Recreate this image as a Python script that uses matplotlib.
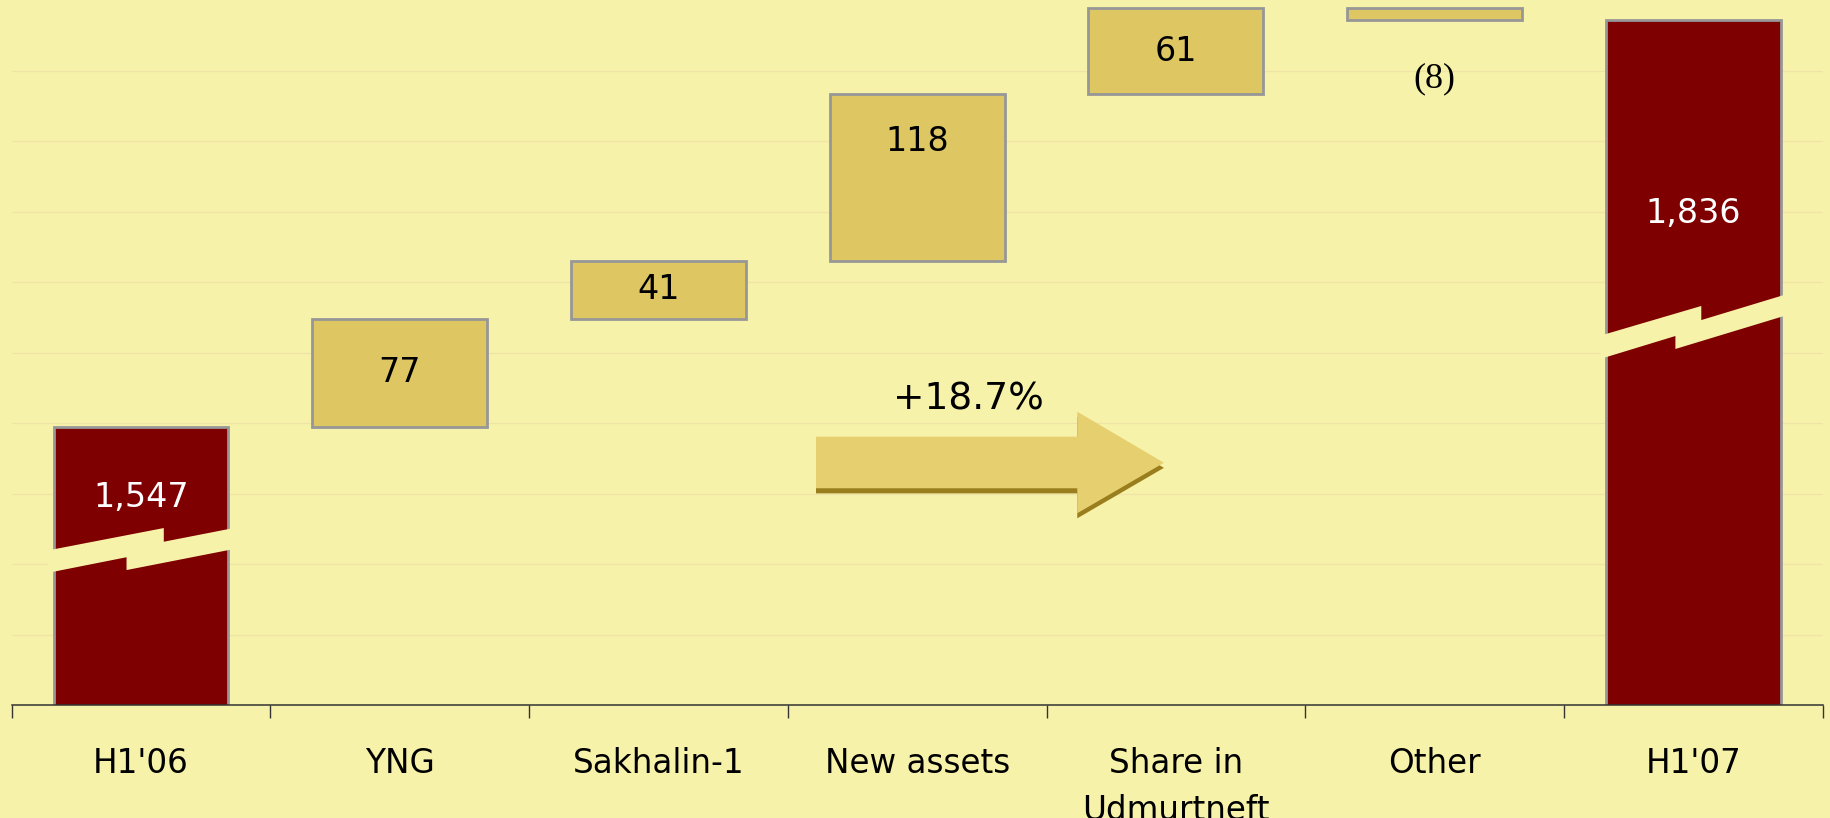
import numpy as np
import matplotlib
matplotlib.use("Agg")
import matplotlib.pyplot as plt
from matplotlib.patches import Polygon
from matplotlib.ticker import FixedLocator, NullFormatter

# ---------------- data ----------------
categories = ["H1'06", "YNG", "Sakhalin-1", "New assets", "Share in\nUdmurtneft", "Other", "H1'07"]
start_total = 1547
end_total = 1836
deltas = [77, 41, 118, 61, -8]
value_labels = ["1,547", "77", "41", "118", "61", "(8)", "1,836"]
growth_label = "+18.7%"

# ---------------- style ----------------
BG = "#F7F2AA"
RED = "#7F0000"
GOLD = "#DEC763"
EDGE = "#979797"
GRID = "#EEE4A6"
ARROW = "#E6CF6E"
ARROW_SH = "#9A7D1C"

plt.rcParams['font.family'] = ['DejaVu Sans']

fig = plt.figure(figsize=(18.3, 8.18), dpi=100)
fig.patch.set_facecolor(BG)
ax = fig.add_axes([11.7 / 1830, 113 / 818, (1822.6 - 11.7) / 1830, 705 / 818])
ax.set_facecolor(BG)

ymin, ymax = 1350, 1850
ax.set_ylim(ymin, ymax)
ax.set_xlim(-0.5, len(categories) - 0.5)

# grid
for gy in np.arange(ymin + 50, ymax, 50):
    ax.axhline(gy, color=GRID, lw=1.0, zorder=0)

bw = 0.676
x = np.arange(len(categories))

# totals
ax.bar([x[0], x[-1]], [start_total, end_total], width=bw, color=RED,
       edgecolor=EDGE, linewidth=2.0, zorder=2)

# floating boxes
cum = np.concatenate([[start_total], start_total + np.cumsum(deltas)])
bottoms = []
for i, d in enumerate(deltas):
    b = cum[i]
    bottoms.append(b)
    ax.bar(x[i + 1], d, bottom=b, width=bw, color=GOLD, edgecolor=EDGE,
           linewidth=2.0, zorder=2)

# axis-break bands on the total bars (decoration)
def break_band(xc, pts):
    xs = [xc - bw / 2 + fx * bw for fx, _ in pts]
    ys = [y for _, y in pts]
    poly = Polygon(list(zip(xs, ys)), closed=True, facecolor=BG,
                   edgecolor='none', zorder=3)
    ax.add_patch(poly)

ext = 0.03
break_band(x[0], [(-ext, 1459.7), (0.63, 1475.5), (0.63, 1465.8), (1 + ext, 1475.5),
                  (1 + ext, 1460.6), (0.417, 1445.7), (0.417, 1454.8), (-ext, 1443.8)])
break_band(x[-1], [(-ext, 1612.0), (0.546, 1633.0), (0.546, 1623.0), (1 + ext, 1641.2),
                   (1 + ext, 1626.3), (0.398, 1602.5), (0.398, 1611.7), (-ext, 1595.5)])

# value labels
fs_val = 24
ax.text(x[0], 1497, value_labels[0], ha='center', va='center', color='white',
        fontsize=fs_val, zorder=5)
ax.text(x[-1], 1698.5, value_labels[-1], ha='center', va='center', color='white',
        fontsize=fs_val, zorder=5)
for i, d in enumerate(deltas):
    b = bottoms[i]
    lab = value_labels[i + 1]
    if d < 0:
        ax.text(x[i + 1], b + d - 42, lab, ha='center', va='center',
                fontsize=26, family=['Liberation Serif'], zorder=5)
    elif d > 100:
        ax.text(x[i + 1], b + d - 33, lab, ha='center', va='center',
                fontsize=fs_val, zorder=5)
    else:
        ax.text(x[i + 1], b + d / 2, lab, ha='center', va='center',
                fontsize=fs_val, zorder=5)

# growth arrow (decoration)
ax_x0, ax_x1, ax_tip = 2.609, 3.619, 3.954
by0, by1 = 1503.7, 1540.3
hy0, hy1, tipy = 1486.0, 1558.0, 1521.8
arrow_pts = [(ax_x0, by0), (ax_x0, by1), (ax_x1, by1), (ax_x1, hy1),
             (ax_tip, tipy), (ax_x1, hy0), (ax_x1, by0)]
sh = 3.6
ax.add_patch(Polygon([(px, py - sh) for px, py in arrow_pts], closed=True,
                     facecolor=ARROW_SH, edgecolor='none', zorder=3))
ax.add_patch(Polygon(arrow_pts, closed=True, facecolor=ARROW, edgecolor='none', zorder=4))
ax.text(3.197, 1567, growth_label, ha='center', va='center', fontsize=27, zorder=5)

# axes styling
for s in ['left', 'right', 'top']:
    ax.spines[s].set_visible(False)
ax.spines['bottom'].set_color('#333333')
ax.spines['bottom'].set_linewidth(1.1)
ax.set_yticks([])
ax.set_xticks(x)
ax.set_xticklabels(categories, fontsize=23.5, linespacing=1.55)
ax.tick_params(axis='x', which='major', length=0, pad=30)
ax.xaxis.set_minor_locator(FixedLocator(np.arange(-0.5, len(categories), 1.0)))
ax.xaxis.set_minor_formatter(NullFormatter())
ax.tick_params(axis='x', which='minor', length=9.4, width=1.0, color='#333333', direction='out')

fig.savefig("out.png", dpi=100, facecolor=BG)
